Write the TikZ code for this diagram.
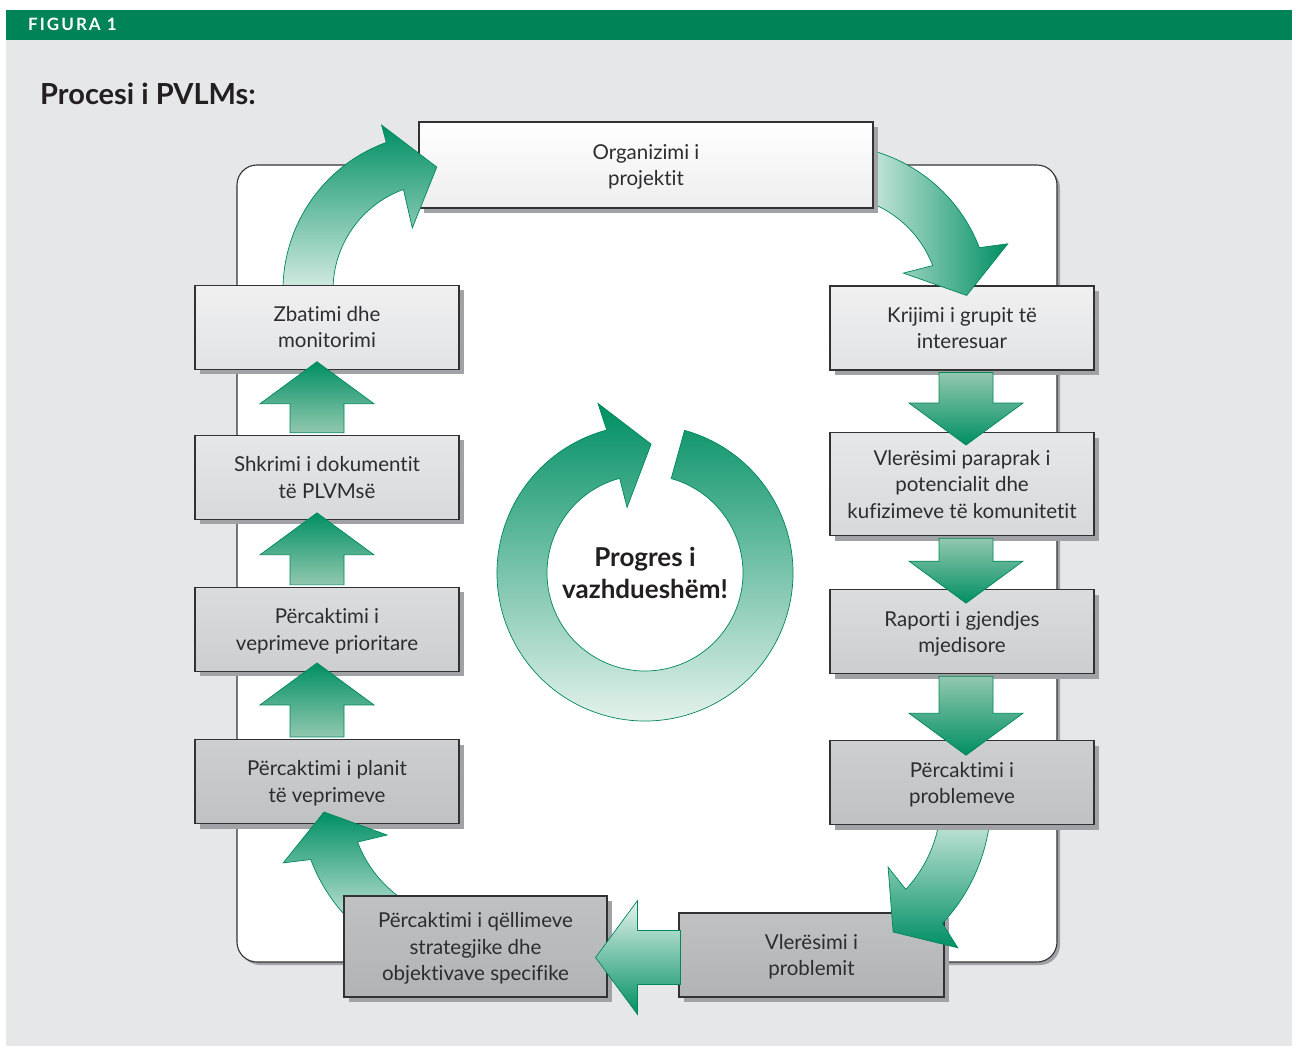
\documentclass[tikz,border=0pt]{standalone}
\usepackage{fontspec}
\setmainfont{Lato}[Ligatures={NoCommon}]
\usetikzlibrary{calc,positioning,shadows}

\definecolor{hdrgreen}{RGB}{0,131,87}
\definecolor{panelgray}{RGB}{230,231,233}
\definecolor{arrowdark}{RGB}{0,143,99}
\definecolor{arrowlight}{RGB}{146,200,175}
\definecolor{curvelight}{RGB}{230,243,237}
\definecolor{arrowrim}{RGB}{0,135,92}
\definecolor{boxline}{RGB}{50,50,52}
\definecolor{boxshadow}{RGB}{160,162,166}
\definecolor{boxtext}{RGB}{45,45,47}

\tikzstyle{stage} = [rectangle, draw=boxline, line width=1.1pt,
    minimum width=264pt, minimum height=84pt, inner sep=0pt, text depth=0pt,
    align=center, text=boxtext, font=\fontsize{20.5}{26.5}\selectfont,
    drop shadow={shadow xshift=5pt, shadow yshift=-5pt, fill=boxshadow, opacity=1}]
\tikzstyle{fat} = [draw=arrowrim, line width=0.7pt]
\tikzstyle{tone1} = [top color=white, bottom color={rgb,255:red,238;green,238;blue,239}]
\tikzstyle{tone2} = [top color={rgb,255:red,240;green,240;blue,241}, bottom color={rgb,255:red,226;green,227;blue,228}]
\tikzstyle{tone3} = [top color={rgb,255:red,230;green,231;blue,232}, bottom color={rgb,255:red,216;green,217;blue,218}]
\tikzstyle{tone4} = [top color={rgb,255:red,219;green,220;blue,221}, bottom color={rgb,255:red,205;green,206;blue,207}]
\tikzstyle{tone5} = [top color={rgb,255:red,206;green,207;blue,208}, bottom color={rgb,255:red,192;green,193;blue,195}]
\tikzstyle{tone6} = [top color={rgb,255:red,192;green,193;blue,195}, bottom color={rgb,255:red,178;green,179;blue,181}]

% straight fat arrow: [shading]{tail}{tip}
\newcommand{\fatarrow}[3][]{%
  \coordinate (hb) at ($(#3)!42pt!(#2)$);
  \path[fat,#1] ($(#2)!27pt!90:(#3)$) -- ($(hb)!27pt!90:(#3)$) -- ($(hb)!57pt!90:(#3)$) -- (#3)
    -- ($(hb)!57pt!-90:(#3)$) -- ($(hb)!27pt!-90:(#3)$) -- ($(#2)!27pt!-90:(#3)$) -- cycle;
}
% bent fat arrow: {shading}{centre}{tail angle}{head angle}{inner r}{outer r}{outer corner}{tip}{inner corner}
\newcommand{\bendarrow}[9]{%
  \path[fat,#1] ($(#2)+(#3:#6)$) arc[start angle=#3, end angle=#4, radius=#6]
    -- ($(#2)+(#7)$) -- ($(#2)+(#8)$) -- ($(#2)+(#9)$)
    -- ($(#2)+(#4:#5)$) arc[start angle=#4, end angle=#3, radius=#5] -- cycle;
}

\begin{document}
\begin{tikzpicture}[x=1pt, y=-1pt]
    \useasboundingbox (0,0) rectangle (1296,1048);
    \fill[white] (0,0) rectangle (1296,1048);

    % header and panel
    \fill[panelgray] (6,40) rectangle (1292,1046);
    \fill[hdrgreen] (6,10) rectangle (1292,40);
    \node[anchor=west, text=white, inner sep=0pt,
        font=\fontsize{17}{19}\selectfont\bfseries\addfontfeatures{LetterSpace=12}] (fig) at (28,24) {FIGURA 1};
    \node[anchor=base west, inner sep=0pt, text={rgb,255:red,35;green,31;blue,32},
        font=\fontsize{29}{32}\selectfont\bfseries] (title) at (40,105) {Procesi i PVLMs:};

    % white frame
    \draw[draw=boxline, line width=1.1pt, fill=white, rounded corners=20pt,
        drop shadow={shadow xshift=3pt, shadow yshift=-3pt, fill=boxshadow, opacity=1}]
        (237,165) rectangle (1057,962);

    % boxes that only receive arrows
    \node[stage, tone2] (b2) at (962,328) {Krijimi i grupit të\\interesuar};
    \node[stage, tone3, minimum height=103pt, below=61.5pt of b2] (b3) {Vlerësimi paraprak i\\potencialit dhe\\kufizimeve të komunitetit};
    \node[stage, tone4, below=53pt of b3] (b4) {Raporti i gjendjes\\mjedisore};
    \node[stage, tone6, minimum width=265pt] (b6) at (811.5,955) {Vlerësimi i\\problemit};
    \node[stage, tone5] (b8) at (327,781.5) {Përcaktimi i planit\\të veprimeve};
    \node[stage, tone4, above=67pt of b8] (b9) {Përcaktimi i\\veprimeve prioritare};
    \node[stage, tone3, above=67pt of b9] (b10) {Shkrimi i dokumentit\\të PLVMsë};

    % bent arrows with the boxes they leave
    \coordinate (tr) at (830,305);
    \bendarrow{left color=curvelight, right color=arrowdark}{tr}{-80}{-21}{110}{160}{-19:188}{-4:137}{-23.5:80}
    \node[stage, tone1, minimum width=454pt, minimum height=86pt] (b1) at (646,165) {Organizimi i\\projektit};

    \coordinate (tl) at (440,290);
    \bendarrow{top color=arrowdark, bottom color=curvelight}{tl}{175}{250}{107}{157}{250.5:175}{268.5:123}{246:68}
    \node[stage, tone2, above=65pt of b10] (b11) {Zbatimi dhe\\monitorimi};

    \coordinate (br) at (810,800);
    \bendarrow{top color=curvelight, bottom color=arrowdark}{br}{0}{43}{131}{181}{45:209}{57.8:156}{40.7:103}
    \node[stage, tone5, below=66pt of b4] (b5) {Përcaktimi i\\problemeve};

    \coordinate (bl) at (470,800);
    \bendarrow{top color=arrowdark, bottom color=curvelight}{bl}{124}{159.5}{120}{170}{161.4:197}{175.3:146.5}{157.1:90}
    \node[stage, tone6, minimum width=263pt, minimum height=101pt] (b7) at (475.5,946.5) {Përcaktimi i qëllimeve\\strategjike dhe\\objektivave specifike};

    % straight arrows
    \coordinate (a23s) at ($(b2.south)+(4,2)$);   \coordinate (a23e) at ($(b3.north)+(4,13)$);
    \coordinate (a34s) at ($(b3.south)+(4,2)$);   \coordinate (a34e) at ($(b4.north)+(4,14)$);
    \coordinate (a45s) at ($(b4.south)+(4,2)$);   \coordinate (a45e) at ($(b5.north)+(4,15)$);
    \coordinate (a67s) at ($(b6.west)+(2,2.5)$);  \coordinate (a67e) at ($(b7.east)+(-12,11)$);
    \coordinate (a89s) at ($(b8.north)+(-10,-2)$);   \coordinate (a89e) at ($(b9.south)+(-10,-9)$);
    \coordinate (a910s) at ($(b9.north)+(-10,-2)$);  \coordinate (a910e) at ($(b10.south)+(-10,-7)$);
    \coordinate (a1011s) at ($(b10.north)+(-10,-2)$); \coordinate (a1011e) at ($(b11.south)+(-10,-8)$);

    \fatarrow[top color=arrowlight, bottom color=arrowdark]{a23s}{a23e}
    \fatarrow[top color=arrowlight, bottom color=arrowdark]{a34s}{a34e}
    \fatarrow[top color=arrowlight, bottom color=arrowdark]{a45s}{a45e}
    \fatarrow[top color=curvelight, bottom color=arrowdark]{a67s}{a67e}
    \fatarrow[top color=arrowdark, bottom color=arrowlight]{a89s}{a89e}
    \fatarrow[top color=arrowdark, bottom color=arrowlight]{a910s}{a910e}
    \fatarrow[top color=arrowdark, bottom color=arrowlight]{a1011s}{a1011e}

    % centre cycle
    \coordinate (cc) at (645,573);
    \path[fat, top color=arrowdark, bottom color={rgb,255:red,240;green,247;blue,243}]
        ($(cc)+(-74.5:148)$) arc[start angle=-74.5, end angle=255, radius=148]
        -- ($(cc)+(254.5:176)$) -- ($(cc)+(272.7:129)$) -- ($(cc)+(254.7:68)$)
        -- ($(cc)+(255:98)$) arc[start angle=255, end angle=-74.5, radius=98] -- cycle;
    \node[align=center, inner sep=0pt, text={rgb,255:red,35;green,31;blue,32},
        font=\fontsize{26}{32}\selectfont\bfseries] (prog) at (cc) {Progres i\\vazhdueshëm!};

\end{tikzpicture}
\end{document}
